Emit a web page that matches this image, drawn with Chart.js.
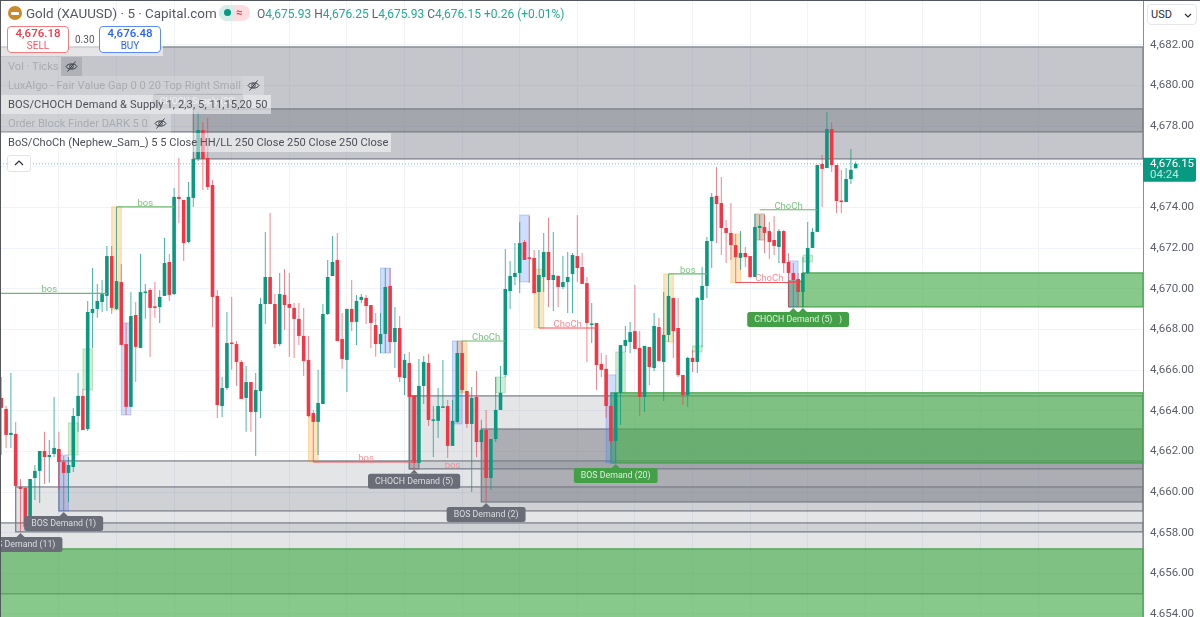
<!DOCTYPE html>
<html>
<head>
<meta charset="utf-8">
<title>Gold (XAUUSD) 5</title>
<script src="https://cdn.jsdelivr.net/npm/chart.js@4"></script>
<style>
    html, body { margin: 0; padding: 0; background: #fff; overflow: hidden; }
    body { width: 1200px; height: 617px; position: relative; font-family: Roboto, 'Noto Sans', sans-serif; }
    canvas { position: absolute; left: 0; top: 0; }
    .abs { position: absolute; white-space: nowrap; }
    .edge-top { left: 0; top: 0; width: 1200px; height: 1px; background: #55575e; }
    .edge-left { left: 0; top: 0; width: 1px; height: 617px; background: #55575e; }
    .title { left: 26px; top: 4px; font-size: 13.4px; line-height: 19px; color: #555861; }
    .ohlc { left: 257px; top: 6px; font-size: 12px; line-height: 16px; color: #22ab94; }
    .ohlc b { font-weight: 400; color: #5d606b; }
    .logo { left: 8px; top: 6px; width: 14px; height: 14px; border-radius: 50%; background: #c98a2a; }
    .logo:after { content: ''; position: absolute; left: 3px; top: 6px; width: 8px; height: 3px; background: #fff; border-radius: 1px; }
    .badge { left: 219px; top: 5px; width: 31px; height: 16px; border-radius: 8px; overflow: hidden; background: #fcdde0; }
    .badge i { position: absolute; left: 0; top: 0; width: 15px; height: 16px; background: #d5eee9; }
    .badge u { position: absolute; left: 5px; top: 4px; width: 7px; height: 7px; border-radius: 50%; background: #089981; }
    .badge s { position: absolute; left: 17px; top: 0; font-size: 11px; line-height: 16px; color: #f23645; text-decoration: none; font-weight: 600; }
    .band { left: 1px; top: 24px; width: 162px; height: 32px; background: rgba(255,255,255,.55); }
    .trade { top: 26px; width: 60px; height: 25px; border-radius: 4px; background: #fff; border: 1px solid; text-align: center; }
    .trade span { display: block; font-size: 11.5px; line-height: 13px; font-weight: 500; }
    .trade em { display: block; font-size: 10px; line-height: 11px; font-style: normal; }
    .sell { left: 7px; border-color: #f77c80; color: #f23645; }
    .sell em { color: #f7525f; }
    .buy { left: 99px; border-color: #5b8cff; color: #2962ff; }
    .spread { left: 75px; top: 33px; font-size: 10px; line-height: 14px; color: #555861; }
    .row { left: 1px; height: 19px; line-height: 19px; padding-left: 7px; font-size: 11.1px; }
    .on { color: #4c4f58; background: rgba(255,255,255,.5); padding-right: 3px; }
    .off { color: #a9abb2; background: rgba(255,255,255,.18); padding-right: 2px; }
    .eye { width: 21px; height: 19px; background: rgba(120,123,134,.28); }
    .eye svg { position: absolute; left: 4px; top: 3px; }
    .fold { left: 7px; top: 155px; width: 22px; height: 15px; border: 1px solid #e2e3e8; border-radius: 3px; background: #fff; }
    .fold svg { position: absolute; left: 6px; top: 4px; }
    .usd { left: 1147px; top: 4px; height: 19px; border: 1px solid #e6e7ec; border-radius: 4px; background: #fff; font-size: 11px; line-height: 19px; color: #2a2e39; padding-left: 3px; width: 45px; }
    .usd svg { position: absolute; right: 4px; top: 8px; }
</style>
</head>
<body>
<canvas id="goldChart" width="1200" height="617"></canvas>

<div class="abs edge-top"></div>
<div class="abs edge-left"></div>
<div class="abs logo"></div>
<div class="abs title">Gold (XAUUSD) · 5 · Capital.com</div>
<div class="abs badge"><i></i><u></u><s>≈</s></div>
<div class="abs ohlc"><b>O</b>4,675.93 <b>H</b>4,676.25 <b>L</b>4,675.93 <b>C</b>4,676.15 +0.26 (+0.01%)</div>
<div class="abs band"></div>
<div class="abs trade sell"><span>4,676.18</span><em>SELL</em></div>
<div class="abs spread">0.30</div>
<div class="abs trade buy"><span>4,676.48</span><em>BUY</em></div>

<div class="abs row off" style="top:57px">Vol · Ticks</div>
<div class="abs eye" style="left:61px;top:57px" data-eye></div>
<div class="abs row off" style="top:76px">LuxAlgo - Fair Value Gap 0 0 20 Top Right Small</div>
<div class="abs eye" style="left:243px;top:76px;background:rgba(255,255,255,.25)" data-eye></div>
<div class="abs row on" style="top:95px;letter-spacing:.1px">BOS/CHOCH Demand &amp; Supply 1, 2,3, 5, 11,15,20 50</div>
<div class="abs row off" style="top:114px">Order Block Finder DARK 5 0</div>
<div class="abs eye" style="left:150px;top:114px;background:rgba(255,255,255,.25)" data-eye></div>
<div class="abs row on" style="top:133px">BoS/ChoCh (Nephew_Sam_) 5 5 Close HH/LL 250 Close 250 Close 250 Close</div>
<div class="abs fold"><svg width="10" height="6"><path d="M1 5 L5 1 L9 5" fill="none" stroke="#2a2e39" stroke-width="1.2"/></svg></div>
<div class="abs usd">USD<svg width="8" height="5"><path d="M1 1 L4 4 L7 1" fill="none" stroke="#2a2e39" stroke-width="1.2"/></svg></div>

<script>
// Candles
const opens = [4664.63,4664.09,4662.81,4662.86,4660.25,4660.20,4658.28,4660.69,4661.04,4662.02,4661.72,4661.87,4662.12,4661.48,4660.94,4661.23,4663.74,4664.73,4663.10,4668.81,4669.01,4669.35,4669.65,4671.61,4669.01,4670.33,4667.28,4664.19,4668.71,4667.09,4669.79,4669.94,4669.10,4669.10,4669.65,4671.32,4669.74,4674.52,4674.37,4672.30,4674.47,4676.39,4677.81,4676.44,4675.11,4669.65,4664.23,4665.12,4667.33,4667.28,4666.40,4664.63,4665.41,4663.94,4664.97,4669.25,4670.58,4669.25,4667.28,4669.70,4669.25,4669.06,4668.52,4667.68,4666.50,4663.89,4663.45,4664.33,4668.76,4670.63,4671.42,4667.53,4666.50,4669.01,4668.37,4669.45,4669.55,4669.20,4668.22,4667.28,4667.78,4670.14,4667.38,4668.07,4665.61,4666.35,4664.73,4661.43,4665.22,4666.35,4663.50,4663.50,4664.14,4664.23,4662.27,4663.45,4666.84,4664.97,4663.35,4664.68,4662.46,4663.05,4660.69,4662.61,4664.04,4665.76,4669.89,4670.58,4670.78,4672.30,4671.52,4671.52,4669.84,4670.58,4671.81,4670.43,4670.63,4670.09,4670.33,4670.73,4671.61,4671.07,4670.28,4668.22,4668.32,4666.30,4666.06,4664.23,4662.51,4664.88,4667.19,4667.38,4667.92,4667.09,4664.68,4667.14,4666.10,4668.12,4666.40,4667.73,4669.55,4668.07,4665.76,4664.77,4666.60,4666.40,4669.45,4670.14,4672.35,4674.57,4674.22,4672.99,4672.75,4672.15,4671.52,4671.76,4671.61,4670.58,4672.99,4673.04,4672.84,4672.40,4672.06,4672.84,4671.32,4670.78,4670.48,4669.84,4670.78,4672.01,4672.80,4676.14,4675.94,4677.86,4676.09,4674.32,4674.27,4675.40,4675.93];
const highs = [4665.66,4664.23,4665.86,4663.45,4660.64,4660.25,4660.64,4661.33,4662.02,4662.96,4662.56,4664.68,4662.96,4661.77,4661.72,4664.14,4665.86,4665.07,4669.40,4671.02,4670.24,4670.43,4672.11,4672.11,4674.03,4671.22,4668.32,4669.84,4669.35,4671.71,4670.24,4670.04,4670.33,4669.94,4672.50,4671.71,4674.96,4676.44,4674.37,4675.26,4676.39,4678.90,4678.21,4678.40,4675.35,4669.94,4665.66,4668.86,4669.60,4667.43,4666.50,4666.20,4665.41,4665.86,4669.55,4672.80,4673.73,4669.74,4670.78,4670.97,4670.78,4669.30,4669.30,4669.06,4667.68,4664.04,4666.01,4669.25,4671.42,4672.60,4672.75,4668.81,4669.01,4670.43,4669.70,4669.74,4669.70,4669.20,4668.81,4668.81,4671.02,4671.02,4669.10,4668.66,4666.79,4666.89,4664.73,4666.55,4666.69,4666.79,4664.23,4665.12,4666.50,4664.53,4664.53,4667.43,4667.43,4664.97,4665.17,4665.96,4663.55,4664.04,4662.61,4665.66,4666.20,4671.96,4671.37,4672.25,4673.29,4672.40,4673.58,4671.91,4671.91,4672.75,4673.49,4672.80,4670.68,4671.61,4671.81,4671.76,4673.63,4671.76,4670.58,4669.30,4668.32,4666.84,4666.74,4664.28,4664.88,4667.14,4668.17,4668.37,4670.19,4667.92,4667.14,4667.14,4668.81,4668.57,4669.84,4670.73,4669.55,4669.55,4665.76,4666.65,4666.99,4669.60,4671.07,4672.55,4674.71,4675.99,4675.50,4673.39,4674.22,4672.70,4672.84,4672.06,4671.61,4673.68,4673.63,4673.63,4673.29,4673.58,4672.94,4672.89,4671.76,4671.27,4670.78,4671.56,4673.29,4672.99,4676.09,4676.58,4678.70,4678.21,4676.09,4675.85,4675.94,4676.88,4676.25];
const lows = [4661.82,4662.17,4662.17,4660.25,4658.04,4658.13,4658.23,4659.61,4659.46,4660.40,4660.45,4661.72,4660.10,4659.07,4659.51,4660.99,4662.96,4663.05,4663.00,4667.09,4668.57,4668.86,4668.91,4668.76,4668.96,4667.24,4663.79,4664.19,4665.41,4667.09,4668.52,4666.65,4668.57,4668.32,4669.65,4669.40,4669.70,4673.24,4671.37,4672.25,4674.03,4676.29,4674.86,4674.86,4668.12,4663.64,4663.69,4665.02,4666.01,4665.22,4664.58,4662.96,4662.96,4661.77,4663.64,4668.27,4669.25,4667.09,4667.19,4667.97,4666.65,4666.60,4667.24,4665.71,4663.69,4661.48,4661.82,4664.33,4668.71,4670.63,4667.43,4666.06,4664.92,4667.92,4667.24,4669.30,4668.27,4667.09,4666.65,4666.84,4666.84,4666.84,4666.10,4665.41,4664.77,4664.68,4661.14,4661.43,4664.33,4663.25,4661.72,4662.66,4664.14,4661.67,4662.27,4663.40,4664.88,4663.15,4660.00,4661.72,4662.07,4659.51,4660.10,4662.46,4664.04,4665.66,4669.01,4670.19,4669.79,4671.42,4670.28,4669.79,4668.07,4669.84,4669.10,4668.91,4669.10,4669.99,4668.81,4668.81,4670.33,4670.24,4666.40,4667.33,4665.02,4665.66,4663.64,4662.32,4661.48,4663.30,4666.89,4666.84,4667.04,4663.74,4663.94,4665.27,4665.96,4666.40,4664.48,4667.38,4666.60,4665.66,4664.28,4664.19,4665.91,4665.86,4667.14,4669.55,4671.02,4672.25,4671.66,4671.27,4671.42,4670.28,4670.93,4671.07,4670.53,4670.58,4672.40,4671.76,4671.47,4671.66,4671.27,4670.78,4669.10,4669.10,4669.10,4669.10,4670.73,4672.01,4672.80,4674.03,4675.94,4675.75,4673.73,4673.73,4674.27,4675.16,4675.93];
const closes = [4664.14,4662.81,4662.91,4660.30,4660.15,4658.28,4660.64,4661.04,4662.02,4661.72,4661.82,4662.17,4661.48,4660.94,4661.33,4663.74,4664.73,4663.05,4668.86,4669.01,4669.40,4669.74,4671.61,4669.06,4670.38,4667.24,4664.19,4668.66,4667.14,4669.84,4669.84,4669.06,4669.06,4669.60,4671.27,4669.70,4674.52,4674.42,4672.25,4674.52,4676.39,4677.81,4676.39,4675.01,4669.60,4664.28,4665.12,4667.33,4667.28,4666.40,4664.58,4665.41,4663.94,4665.02,4669.25,4670.58,4669.25,4667.28,4669.74,4669.20,4669.06,4668.52,4667.68,4666.45,4663.74,4663.45,4664.38,4668.76,4670.58,4671.32,4667.43,4666.55,4669.01,4668.37,4669.40,4669.60,4669.15,4668.32,4667.28,4667.78,4670.09,4667.38,4668.07,4665.66,4666.50,4664.68,4661.43,4665.22,4666.40,4663.55,4663.55,4664.23,4664.19,4662.27,4663.50,4666.84,4665.02,4663.35,4664.63,4662.46,4663.05,4660.69,4662.61,4664.04,4664.88,4669.99,4670.63,4670.78,4672.25,4671.42,4671.47,4669.79,4670.68,4671.81,4670.43,4670.68,4670.09,4670.33,4670.58,4671.66,4671.02,4670.24,4668.32,4668.27,4666.25,4666.01,4664.23,4662.51,4664.88,4667.23,4667.48,4667.87,4667.04,4664.68,4667.19,4666.15,4668.17,4666.45,4667.73,4669.65,4667.92,4665.76,4664.77,4666.60,4666.40,4669.55,4670.14,4672.35,4674.52,4674.17,4672.99,4672.75,4672.15,4671.56,4671.76,4671.56,4670.58,4673.04,4673.09,4672.75,4672.30,4672.11,4672.84,4671.27,4670.78,4670.43,4669.84,4670.78,4672.01,4672.80,4676.09,4675.90,4677.86,4676.09,4674.32,4674.27,4675.40,4675.85,4676.15];

const lastPrice = 4676.15;
const priceTicks = [4654,4656,4658,4660,4662,4664,4666,4668,4670,4672,4674,4676,4678,4680,4682];

// Demand / supply zones: first bar, last bar (null = still open), top, bottom, kind
const zoneStart  = [-2,      -2,      -2,      40,      3,       12,      85,      85,      100,     127,     164,     167];
const zoneEnd    = [null,    null,    null,    null,    null,    null,    null,    87,      null,    null,    167,     null];
const zoneTop    = [4681.90, 4658.48, 4657.20, 4678.85, 4660.25, 4661.53, 4664.73, 4664.73, 4663.10, 4664.88, 4670.38, 4670.78];
const zoneBottom = [4677.72, 4654.99, 4652.72, 4676.39, 4658.04, 4659.07, 4661.14, 4661.14, 4659.51, 4661.43, 4669.11, 4669.11];
const zoneKind   = ['supply','faint', 'green', 'supply','faint', 'faint', 'faint', 'mid',   'dark',  'green', 'green', 'green'];

// Three bar highlight boxes: centre bar, top, bottom, kind
const boxBar    = [26,13,80,95,109,127,165,158,24,65,96,112,139,153,158,18,15,104,129,145,168];
const boxTop    = [4668.32,4661.82,4671.02,4667.43,4673.63,4665.76,4671.37,4673.68,4674.03,4663.74,4667.43,4670.97,4670.73,4672.70,4673.68,4667.04,4663.40,4665.66,4666.89,4667.19,4671.66];
const boxBottom = [4663.79,4659.07,4666.84,4663.35,4670.34,4661.43,4669.11,4672.40,4668.96,4661.48,4664.88,4668.07,4667.38,4670.29,4672.40,4665.02,4661.82,4664.88,4664.88,4666.89,4671.32];
const boxKind   = ['b','b','b','b','b','b','b','b','o','o','o','o','o','o','o','g','g','g','g','g','g'];

// Break of structure levels
const levelStart = [-2,24,65,94,96,112,139,153,158];
const levelEnd   = [22,36,86,94,105,124,147,166,170];
const levelPrice = [4669.77,4674.03,4661.48,4661.14,4667.43,4668.07,4670.73,4670.31,4673.89];
const levelText  = ['bos','bos','bos','bos','ChoCh','ChoCh','bos','ChoCh','ChoCh'];
const levelTextBar = [10,30,76,94,101,118,143,160,164];
const levelUp    = [true,true,false,false,true,false,true,false,true];

// Zone tags
const tagText  = ['BOS Demand (1)','BOS Demand (11)','CHOCH Demand (5)','BOS Demand (2)','BOS Demand (20)','CHOCH Demand (5)','CHOCH Demand (5)','CHOCH Supply (20)'];
const tagBar   = [13,4,86,101,128,167,165,41];
const tagPrice = [4659.02,4657.98,4661.09,4659.46,4661.38,4669.06,4669.06,4678.66];
const tagKind  = ['gray','gray','gray','gray','green','green','green','supply'];

const TEAL = '#089981';
const RED = '#f23645';
const TEAL_WICK = 'rgba(8,153,129,.72)';
const RED_WICK = 'rgba(242,54,69,.62)';
const XMIN = -0.27, XMAX = 237.85;
const YMAX = 4684.21, YMIN = 4653.85;

const zoneStyle = {
    supply: { fill: 'rgba(120,123,134,.43)', line: '#787b86' },
    faint: { fill: 'rgba(120,123,134,.2)', line: '#787b86' },
    mid: { fill: 'rgba(120,123,134,.42)', line: '#787b86' },
    dark: { fill: 'rgba(120,123,134,.52)', line: '#787b86' },
    green: { fill: 'rgba(76,175,80,.67)', line: '#43a047' }
};
const boxStyle = {
    b: { fill: 'rgba(66,120,244,.25)', line: 'rgba(66,120,244,.3)' },
    o: { fill: 'rgba(255,152,0,.25)', line: 'rgba(255,152,0,.3)' },
    g: { fill: 'rgba(76,175,80,.25)', line: 'rgba(76,175,80,.3)' }
};
const tagStyle = {
    gray: { bg: '#6a6d78', text: '#dcdde1' },
    green: { bg: '#43a047', text: '#dcefdd' },
    supply: { bg: '#a3a5ab', text: '#e3e3e6' }
};

const upDown = closes.map((c, i) => c >= opens[i] ? TEAL : RED);
const wickColors = closes.map((c, i) => c >= opens[i] ? TEAL_WICK : RED_WICK);

// scale paddings would shrink the plot, the candles need it edge to edge
function noPadding(axis) {
    axis.paddingLeft = axis.paddingRight = axis.paddingTop = axis.paddingBottom = 0;
}

// zones and boxes sit under the candles
const zonePlugin = {
    id: 'zones',
    beforeDatasetsDraw(chart) {
        const { ctx, chartArea: area, scales: { x, y } } = chart;
        ctx.save();
        ctx.beginPath();
        ctx.rect(area.left, area.top, area.width, area.height);
        ctx.clip();
        zoneStart.forEach((s, i) => {
            const st = zoneStyle[zoneKind[i]];
            const left = x.getPixelForValue(s);
            const right = zoneEnd[i] === null ? area.right : x.getPixelForValue(zoneEnd[i]);
            const top = y.getPixelForValue(zoneTop[i]);
            const h = y.getPixelForValue(zoneBottom[i]) - top;
            ctx.fillStyle = st.fill;
            ctx.fillRect(left, top, right - left, h);
            ctx.strokeStyle = st.line;
            ctx.lineWidth = 1.2;
            ctx.strokeRect(left, top, right - left, h);
        });
        boxBar.forEach((b, i) => {
            const st = boxStyle[boxKind[i]];
            const left = x.getPixelForValue(b - 1);
            const right = x.getPixelForValue(b + 1);
            const top = y.getPixelForValue(boxTop[i]);
            const h = y.getPixelForValue(boxBottom[i]) - top;
            ctx.fillStyle = st.fill;
            ctx.fillRect(left, top, right - left, h);
            ctx.strokeStyle = st.line;
            ctx.lineWidth = 1;
            ctx.strokeRect(left, top, right - left, h);
        });
        ctx.restore();
    },
    afterDatasetsDraw(chart) {
        const { ctx, chartArea: area, scales: { x, y } } = chart;
        ctx.save();
        ctx.beginPath();
        ctx.rect(area.left, area.top, area.width, area.height);
        ctx.clip();

        // level captions
        ctx.font = '9.5px Roboto';
        ctx.textAlign = 'center';
        ctx.textBaseline = 'alphabetic';
        levelText.forEach((t, i) => {
            ctx.fillStyle = levelUp[i] ? '#7cc480' : '#f98d95';
            ctx.fillText(t, x.getPixelForValue(levelTextBar[i]), y.getPixelForValue(levelPrice[i]) - 1);
        });

        // zone tags
        tagText.forEach((t, i) => {
            const st = tagStyle[tagKind[i]];
            const cx = x.getPixelForValue(tagBar[i]);
            const tip = y.getPixelForValue(tagPrice[i]);
            const pointsUp = tagKind[i] !== 'supply';
            const boxY = pointsUp ? tip + 4 : tip - 19;
            ctx.font = '8.8px Roboto';
            const w = ctx.measureText(t).width + 14;
            ctx.fillStyle = st.bg;
            ctx.beginPath();
            ctx.roundRect(cx - w / 2, boxY, w, 15, 2.5);
            ctx.fill();
            ctx.beginPath();
            if (pointsUp) {
                ctx.moveTo(cx - 4, tip + 4); ctx.lineTo(cx, tip); ctx.lineTo(cx + 4, tip + 4);
            } else {
                ctx.moveTo(cx - 4, tip - 4); ctx.lineTo(cx, tip); ctx.lineTo(cx + 4, tip - 4);
            }
            ctx.fill();
            ctx.fillStyle = st.text;
            ctx.textAlign = 'center';
            ctx.textBaseline = 'middle';
            ctx.fillText(t, cx, boxY + 8);
        });
        ctx.restore();

        // last price tag on the axis
        const py = y.getPixelForValue(lastPrice);
        ctx.fillStyle = TEAL;
        ctx.beginPath();
        ctx.roundRect(area.right, py - 6, 53, 24, [0, 2, 2, 0]);
        ctx.fill();
        ctx.textAlign = 'left';
        ctx.textBaseline = 'middle';
        ctx.font = '11.5px Roboto';
        ctx.fillStyle = '#fff';
        ctx.fillText(lastPrice.toLocaleString('en-US', { minimumFractionDigits: 2 }), area.right + 7, py + 0.5);
        ctx.fillStyle = '#bfe6de';
        ctx.fillText('04:24', area.right + 7, py + 11.5);
    }
};

const levelSets = levelStart.map((s, i) => ({
    type: 'line',
    data: s === levelEnd[i] ? [] : [{ x: s, y: levelPrice[i] }, { x: levelEnd[i], y: levelPrice[i] }],
    borderColor: levelUp[i] ? '#6bb96f' : '#f2545f',
    borderWidth: 1.2,
    pointRadius: 0,
    order: 1
}));

const chart = new Chart(document.getElementById('goldChart').getContext('2d'), {
    type: 'bar',
    data: {
        datasets: [
            {
                data: lows.map((l, i) => ({ x: i, y: [l, highs[i]] })),
                backgroundColor: wickColors,
                barThickness: 1,
                grouped: false,
                inflateAmount: 0,
                order: 3
            },
            {
                data: opens.map((o, i) => ({ x: i, y: [o, closes[i]] })),
                backgroundColor: upDown,
                barThickness: 3.6,
                minBarLength: 1.5,
                grouped: false,
                inflateAmount: 0,
                order: 2
            },
            {
                type: 'line',
                data: [{ x: XMIN, y: lastPrice }, { x: XMAX, y: lastPrice }],
                borderColor: 'rgba(8,153,129,.6)',
                borderWidth: 1,
                borderDash: [1, 2],
                pointRadius: 0,
                order: 1
            },
            ...levelSets
        ]
    },
    options: {
        responsive: false,
        animation: false,
        layout: { padding: 0, autoPadding: false },
        plugins: { legend: { display: false }, tooltip: { enabled: false } },
        scales: {
            x: {
                type: 'linear',
                offset: false,
                min: XMIN,
                max: XMAX,
                afterBuildTicks: axis => { axis.ticks = axis.ticks.filter(t => t.value % 12 === 0); },
                afterFit: axis => { axis.height = 0; noPadding(axis); },
                ticks: { stepSize: 12, display: false },
                border: { display: false },
                grid: { color: '#f0f3fa', drawTicks: false, offset: false }
            },
            y: {
                position: 'right',
                min: YMIN,
                max: YMAX,
                afterBuildTicks: axis => { axis.ticks = priceTicks.map(value => ({ value })); },
                afterFit: axis => { axis.width = 57; noPadding(axis); },
                ticks: {
                    autoSkip: false,
                    padding: 7,
                    color: '#5d606b',
                    font: { family: 'Roboto', size: 11.5 },
                    callback: v => v.toLocaleString('en-US', { minimumFractionDigits: 2 })
                },
                border: { display: true, color: '#8b8e98', width: 1 },
                grid: { color: '#f0f3fa', drawTicks: false }
            }
        }
    },
    plugins: [zonePlugin]
});

// hidden indicator eye icons
document.querySelectorAll('[data-eye]').forEach(el => {
    el.innerHTML = '<svg width="13" height="13" viewBox="0 0 13 13" fill="none" stroke="#3a3d46" stroke-width="1"><path d="M1 6.5C3 3 10 3 12 6.5C10 10 3 10 1 6.5Z"/><circle cx="6.5" cy="6.5" r="1.8"/><path d="M2.5 11.5L10.5 1.5"/></svg>';
});
</script>
</body>
</html>
